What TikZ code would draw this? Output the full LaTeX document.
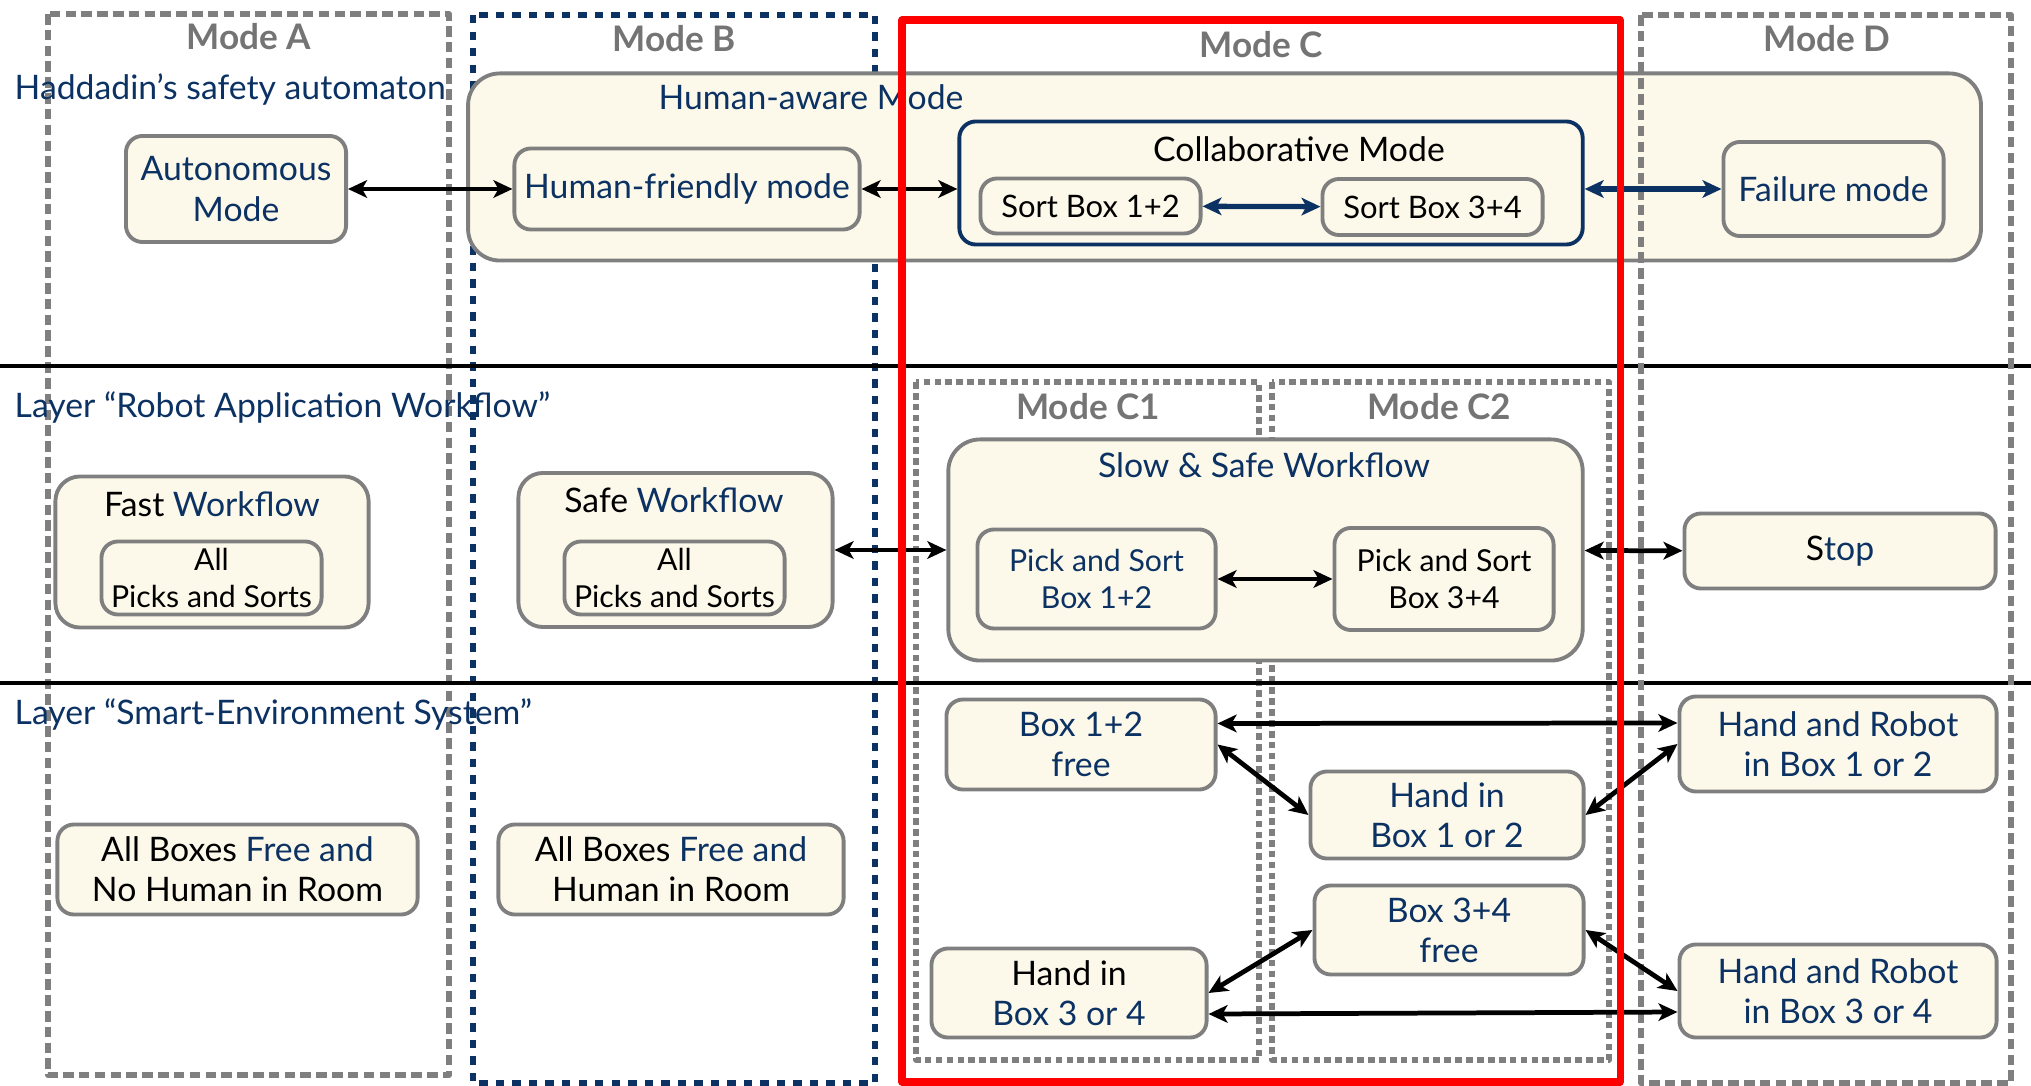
\documentclass[tikz,border=0pt]{standalone}
\usepackage{fontspec}
\setmainfont{Lato}
\usetikzlibrary{arrows.meta, positioning}

\definecolor{navy}{HTML}{0B3263}
\definecolor{cream}{HTML}{FDF9EA}
\definecolor{boxgray}{HTML}{7F7F7F}
\definecolor{modegray}{HTML}{747474}

\tikzset{
	statebox/.style={rectangle, draw=boxgray, fill=cream, line width=1.1pt, rounded corners=4.7pt, inner sep=1pt, align=center, font=\fontsize{9.6}{11.4}\selectfont},
	groupbox/.style={statebox, rounded corners=9pt},
	sortbox/.style={statebox, font=\fontsize{8.8}{10.5}\selectfont},
	smallbox/.style={statebox, font=\fontsize{8.6}{10.6}\selectfont},
	grayframe/.style={draw=boxgray, line width=1.7pt, dash pattern=on 3pt off 1.5pt},
	navyframe/.style={draw=navy, line width=1.7pt, dash pattern=on 2.4pt off 2.3pt},
	subframe/.style={draw=boxgray, line width=1.6pt, dash pattern=on 1.9pt off 1.2pt},
	layerline/.style={draw=black, line width=1.1pt},
	layer/.style={anchor=base west, inner sep=0pt, text=navy, font=\fontsize{9.6}{11.4}\selectfont},
	modelabel/.style={anchor=base, inner sep=0pt, text=modegray, font=\fontsize{10}{12}\selectfont\bfseries},
	title/.style={anchor=base, inner sep=0pt, font=\fontsize{9.6}{11.4}\selectfont},
	link/.style={<->, line width=1.35pt}
}

\begin{document}
\begin{tikzpicture}[x=0.01cm, y=-0.01cm, >={Stealth[length=5.4pt,width=5pt,inset=1.4pt]}, line join=round]
	\useasboundingbox (0,0) rectangle (2031,1086);

	% mode frames behind the boxes
	\draw[grayframe] (48,14) rectangle (449,1075);
	\draw[navyframe] (473,15) rectangle (875,1083);
	\draw[subframe] (916,382) rectangle (1259,1060);
	\draw[subframe] (1272,382) rectangle (1609,1060);

	% layers
	\draw[layerline] (0,366) -- (2031,366);
	\draw[layerline] (0,683) -- (2031,683);

	\node[modelabel] (lA) 	at (249,50) 	{Mode A};
	\node[modelabel] (lB) 	at (674,52) 	{Mode B};
	\node[modelabel] (lC) 	at (1261,58) 	{Mode C};
	\node[modelabel] (lD) 	at (1827,52) 	{Mode D};
	\node[modelabel] (lC1) 	at (1088,420) 	{Mode C1};
	\node[modelabel] (lC2) 	at (1439,420) 	{Mode C2};

	\node[layer] (L1) 	at (14,100) 	{Haddadin's safety automaton};
	\node[layer] (L2) 	at (14,418) 	{Layer \textquotedblleft Robot Application Workflow\textquotedblright};
	\node[layer] (L3) 	at (14,725) 	{Layer \textquotedblleft Smart-Environment System\textquotedblright};

	% layer "safety automaton"
	\node[statebox, minimum width=22mm, minimum height=10.6mm, text=navy] (auto) 		at (236,189) 	{Autonomous\\Mode};
	\node[groupbox, minimum width=151.2mm, minimum height=18.7mm] (aware) 				at (1224.5,167) {};
	\node[title, text=navy] (awareT) 													at (811,110) 	{Human-aware Mode};
	\node[statebox, minimum width=34.5mm, minimum height=8.1mm, text=navy] (friendly) 	at (687,189) 	{Human-friendly mode};
	\node[statebox, draw=navy, minimum width=62.3mm, minimum height=12.3mm] (collab) 	at (1271,183) 	{};
	\node[title, font=\fontsize{9.6}{11.4}\selectfont] (collabT) 						at (1299,162) 	{Collaborative Mode};
	\node[sortbox, minimum width=22mm, minimum height=5.5mm] (sort12) 					at (1090.5,206) {Sort Box 1+2};
	\node[sortbox, minimum width=22mm, minimum height=5.6mm] (sort34) 					at (1432.5,207) {Sort Box 3+4};
	\node[statebox, minimum width=22mm, minimum height=9.4mm, text=navy] (failure) 		at (1833.5,189) {Failure mode};

	% layer "robot application workflow"
	\node[statebox, rounded corners=7pt, minimum width=31.3mm, minimum height=15.1mm] (fast) 	at (212,552) 	{};
	\node[title] (fastT) 																		at (212,517) 	{Fast \textcolor{navy}{Workflow}};
	\node[smallbox, minimum width=22mm, minimum height=7.3mm] (fastin) 							at (211.5,578) 	{All\\Picks and Sorts};
	\node[statebox, rounded corners=7pt, minimum width=31.4mm, minimum height=15.4mm] (safe) 	at (675.5,550) 	{};
	\node[title] (safeT) 																		at (674,513) 	{Safe \textcolor{navy}{Workflow}};
	\node[smallbox, minimum width=22mm, minimum height=7.3mm] (safein) 							at (674.5,578) 	{All\\Picks and Sorts};
	\node[groupbox, minimum width=63.4mm, minimum height=22.1mm] (slow) 						at (1265.5,550) {};
	\node[title, text=navy] (slowT) 															at (1264,478) 	{Slow \& Safe Workflow};
	\node[smallbox, minimum width=23.8mm, minimum height=9.9mm, text=navy] (pick12) 			at (1096.5,579) {Pick and Sort\\Box 1+2};
	\node[smallbox, minimum width=21.9mm, minimum height=10.2mm] (pick34) 						at (1444,579) 	{Pick and Sort\\Box 3+4};
	\node[statebox, minimum width=31.1mm, minimum height=7.5mm] (stop) 							at (1840,551) 	{S\textcolor{navy}{top}};

	% layer "smart-environment system"
	\node[statebox, minimum width=36mm, minimum height=9mm] (freeno) 					at (237.5,869.5) 	{All Boxes \textcolor{navy}{Free and}\\No Human in Room};
	\node[statebox, minimum width=34.5mm, minimum height=9mm] (freehum) 				at (671,869.5) 		{All Boxes \textcolor{navy}{Free and}\\Human in Room};
	\node[statebox, minimum width=26.9mm, minimum height=9mm, text=navy] (b12free) 		at (1081,744.5) 	{Box 1+2\\free};
	\node[statebox, minimum width=27.3mm, minimum height=8.7mm, text=navy] (hand12) 	at (1447,815) 		{Hand in\\Box 1 or 2};
	\node[statebox, minimum width=26.9mm, minimum height=8.9mm, text=navy] (b34free) 	at (1449,930) 		{Box 3+4\\free};
	\node[statebox, minimum width=27.5mm, minimum height=8.9mm] (hand34) 				at (1069,993) 		{Hand in\\\textcolor{navy}{Box 3 or 4}};
	\node[statebox, minimum width=31.7mm, minimum height=9.5mm, text=navy] (hr12) 		at (1838,744) 		{Hand and Robot\\in Box 1 or 2};
	\node[statebox, minimum width=31.7mm, minimum height=9.3mm, text=navy] (hr34) 		at (1838,991) 		{Hand and Robot\\in Box 3 or 4};

	% mode D frame lies over the human-aware box
	\draw[grayframe] (1641,15) rectangle (2011,1083);

	\path[link] (auto) edge (friendly);
	\path[link] (friendly.east) edge (friendly.east -| collab.west);
	\path[link, navy, line width=1.5pt] (sort12) edge (sort34);
	\path[link, navy, line width=1.5pt] (failure.west -| collab.east) edge (failure.west);

	\path[link] (safe) edge (slow);
	\path[link] (pick12) edge (pick34);
	\path[link] (slow) edge (stop);

	\path[link] ([yshift=2.1mm]b12free.east) edge ([yshift=2.1mm]hr12.west);
	\path[link] (b12free.east) edge (hand12.west);
	\path[link] (hr12.west) edge (hand12.east);
	\path[link] (b34free.west) edge (hand34.east);
	\path[link] (b34free.east) edge (hr34.west);
	\path[link] ([yshift=-2.1mm]hand34.east) edge ([yshift=-2.1mm]hr34.west);

	% mode C
	\draw[red, line width=2pt] (902,20) rectangle (1620,1082);

\end{tikzpicture}
\end{document}
